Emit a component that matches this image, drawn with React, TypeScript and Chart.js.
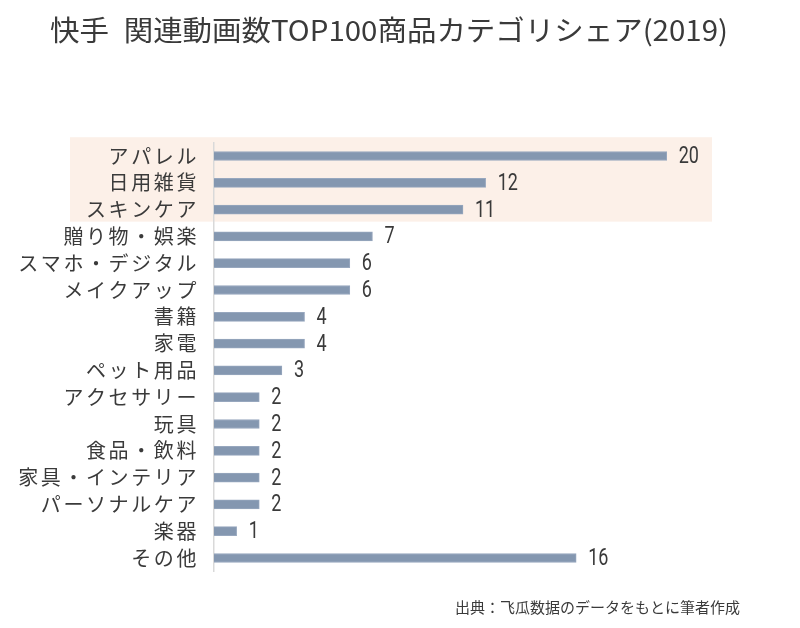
import React, { useEffect, useRef } from "react";
import { Chart, registerables } from "chart.js";

Chart.register(...registerables);

const titleText = "快手\u2002関連動画数TOP100商品カテゴリシェア(2019)";
const sourceText = "出典：飞瓜数据のデータをもとに筆者作成";

const categories = [
  "アパレル",
  "日用雑貨",
  "スキンケア",
  "贈り物・娯楽",
  "スマホ・デジタル",
  "メイクアップ",
  "書籍",
  "家電",
  "ペット用品",
  "アクセサリー",
  "玩具",
  "食品・飲料",
  "家具・インテリア",
  "パーソナルケア",
  "楽器",
  "その他",
];

const counts = [20, 12, 11, 7, 6, 6, 4, 4, 3, 2, 2, 2, 2, 2, 1, 16];

const highlightedCount = 3;

const TEXT = "#3A3A3A";
const JP = '"Noto Sans CJK JP", "Noto Sans", sans-serif';
const NUM = 'Roboto, "Noto Sans", sans-serif';

export default function App() {
  const ref = useRef<HTMLCanvasElement | null>(null);

  useEffect(() => {
    document.body.style.margin = "0";
    const canvas = ref.current;
    if (!canvas) return;

    const decor = {
      id: "decor",
      beforeDraw(chart: any) {
        const ctx = chart.ctx;
        const y = chart.scales.y;
        const band = y.getPixelForValue(1) - y.getPixelForValue(0);
        const top = y.getPixelForValue(0) - band * 0.7;
        const bottom = y.getPixelForValue(highlightedCount - 1) + band * 0.45;
        ctx.save();
        ctx.fillStyle = "#FCF0E8";
        ctx.fillRect(70, top, chart.chartArea.right - 70, bottom - top);
        ctx.restore();
        // title
        ctx.save();
        ctx.fillStyle = TEXT;
        ctx.font = `28px ${JP}`;
        ctx.textBaseline = "middle";
        ctx.textAlign = "left";
        const w = ctx.measureText(titleText).width;
        ctx.translate(50, 30);
        ctx.scale(678 / w, 1);
        ctx.fillText(titleText, 0, 0);
        ctx.restore();
        // source
        ctx.save();
        ctx.fillStyle = TEXT;
        ctx.font = `15px ${JP}`;
        ctx.textBaseline = "middle";
        ctx.textAlign = "left";
        ctx.fillText(sourceText, 455, 607, 290);
        ctx.restore();
        (ctx as any).letterSpacing = "2.6px";
      },
      beforeDatasetsDraw(chart: any) {
        (chart.ctx as any).letterSpacing = "0px";
      },
      afterDatasetsDraw(chart: any) {
        const ctx = chart.ctx;
        const meta = chart.getDatasetMeta(0);
        meta.data.forEach((bar: any, i: number) => {
          ctx.save();
          (ctx as any).letterSpacing = "0px";
          ctx.fillStyle = TEXT;
          ctx.font = `24px ${NUM}`;
          ctx.textBaseline = "middle";
          ctx.textAlign = "left";
          ctx.translate(bar.x + 12, bar.y + 1);
          ctx.scale(0.75, 1);
          ctx.fillText(String(counts[i]), 0, 0);
          ctx.restore();
        });
      },
    };

    const chart = new Chart(canvas, {
      type: "bar",
      data: {
        labels: categories,
        datasets: [
          {
            data: counts,
            backgroundColor: "#8497B0",
            borderColor: "#97A7BE",
            borderWidth: 1,
            barThickness: 9,
          },
        ],
      },
      options: {
        indexAxis: "y",
        animation: false,
        responsive: false,
        maintainAspectRatio: false,
        layout: { padding: { top: 142.6, bottom: 56.6, right: 88, left: 0 } },
        plugins: {
          legend: { display: false },
          title: { display: false },
          tooltip: { enabled: false },
        },
        scales: {
          x: {
            display: false,
            min: 0,
            max: 22,
          },
          y: {
            afterFit(scale: any) {
              scale.width = 214;
            },
            grid: { display: false, drawTicks: false },
            border: { display: true, color: "#D9D9D9", width: 1.5 },
            ticks: {
              color: TEXT,
              padding: 15,
              font: { family: JP, size: 20 },
              autoSkip: false,
            },
          },
        },
      },
      plugins: [decor],
    });

    return () => chart.destroy();
  }, []);

  return (
    <div style={{ position: "fixed", left: 0, top: 0, width: 800, height: 628, background: "#fff" }}>
      <canvas ref={ref} width={800} height={628} style={{ width: 800, height: 628, display: "block" }} />
    </div>
  );
}
